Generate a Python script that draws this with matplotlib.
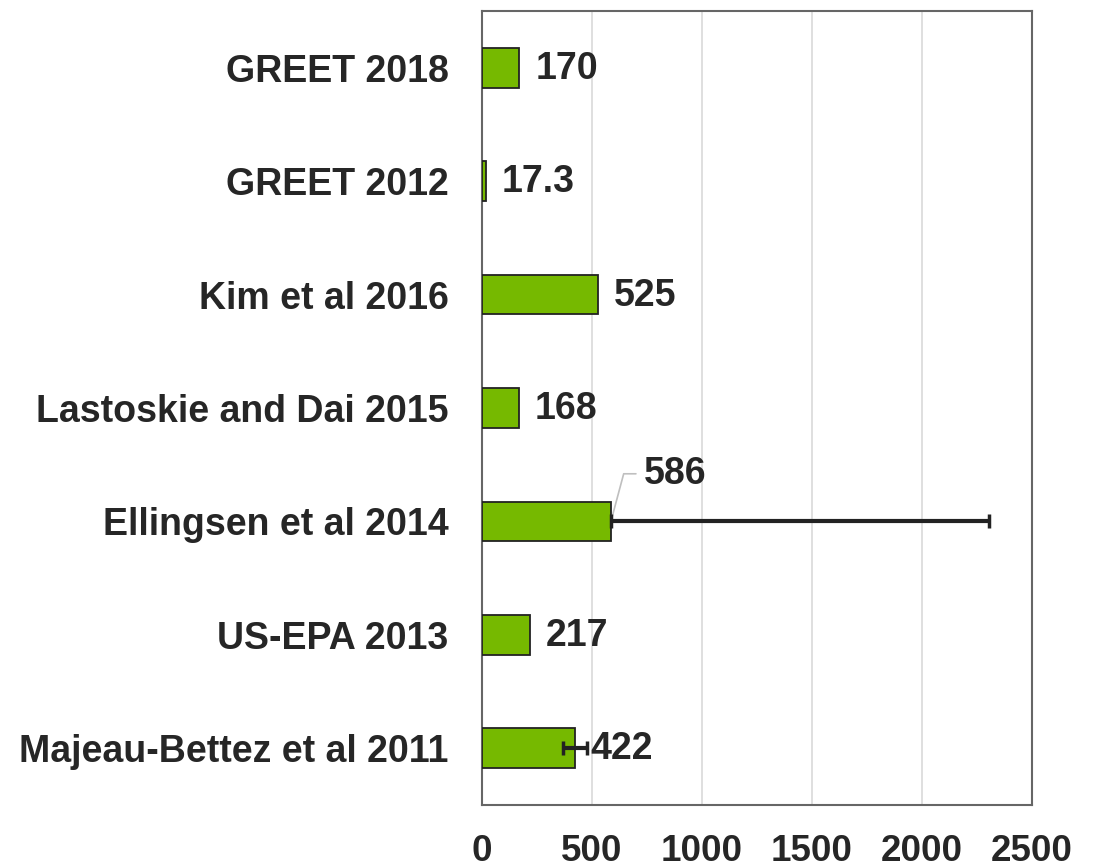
import matplotlib
matplotlib.use("Agg")
import matplotlib.pyplot as plt

categories = ["GREET 2018", "GREET 2012", "Kim et al 2016", "Lastoskie and Dai 2015",
              "Ellingsen et al 2014", "US-EPA 2013", "Majeau-Bettez et al 2011"]
values = [170, 17.3, 525, 168, 586, 217, 422]
labels = ["170", "17.3", "525", "168", "586", "217", "422"]
err_low = [0, 0, 0, 0, 0, 0, 55]
err_high = [0, 0, 0, 0, 1720, 0, 55]
xticks = [0, 500, 1000, 1500, 2000, 2500]

plt.rcParams['font.family'] = ['Liberation Sans', 'DejaVu Sans']
fig = plt.figure(figsize=(10.96, 8.63), dpi=100)
ax = fig.add_axes([482/1096, 1 - 805/863, (1032-482)/1096, (805-11)/863])

ypos = list(range(len(categories)))
ax.barh(ypos, values, height=0.35, color="#76B900", edgecolor="#222222", linewidth=1.3, zorder=3)
for y, v, lo, hi in zip(ypos, values, err_low, err_high):
    if lo or hi:
        ax.errorbar(v, y, xerr=[[lo], [hi]], fmt="none", ecolor="#222222",
                    elinewidth=3, capsize=5, capthick=2.5, zorder=4)

ax.set_xlim(0, 2500)
ax.set_ylim(len(categories) - 0.5, -0.5)
ax.set_xticks(xticks)
ax.set_xticklabels([str(t) for t in xticks])
ax.set_yticks(ypos)
ax.set_yticklabels(categories)
ax.tick_params(axis="x", length=0, pad=21, labelsize=26.5, labelcolor="#262626")
ax.tick_params(axis="y", length=0, pad=24, labelsize=27, labelcolor="#262626")
for lab in ax.get_xticklabels() + ax.get_yticklabels():
    lab.set_fontweight("bold")

ax.grid(axis="x", color="#d9d9d9", linewidth=1.2, zorder=0)
for s in ax.spines.values():
    s.set_color("#666666")
    s.set_linewidth(1.5)

for y, v, lab, hi in zip(ypos, values, labels, err_high):
    if hi > 1000:
        # manually placed label with leader line
        ax.annotate(lab, xy=(v, y), xytext=((645 - 482) / 110.5 * 500, y - 0.42),
                    fontsize=27, fontweight="bold", color="#262626", va="center", ha="left",
                    arrowprops=dict(arrowstyle="-", color="#bfbfbf", lw=1.2,
                                    connectionstyle="angle,angleA=0,angleB=75,rad=0",
                                    shrinkA=4, shrinkB=0))
    else:
        ax.annotate(lab, xy=(v, y), xytext=(16, -1), textcoords="offset pixels",
                    fontsize=27, fontweight="bold", color="#262626", va="center", ha="left")

fig.savefig("out.png", dpi=100)
